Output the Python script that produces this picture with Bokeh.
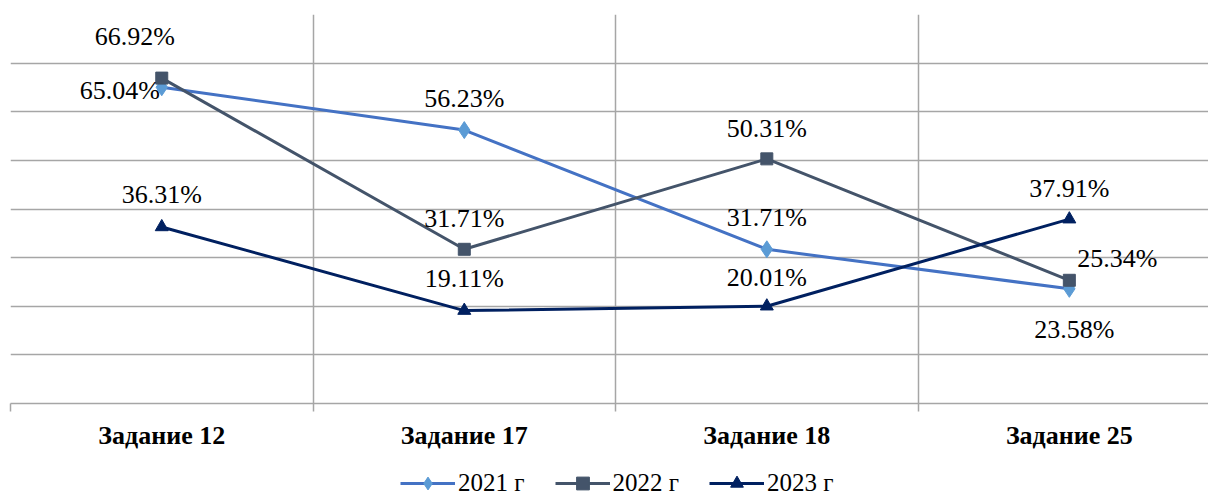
from bokeh.plotting import figure
from bokeh.layouts import column
from bokeh.models import (Range1d, FixedTicker, Legend, LegendItem, LabelSet, ColumnDataSource)
from bokeh.core.properties import value
from bokeh.embed import file_html
from bokeh.resources import INLINE

categories = ["Задание 12", "Задание 17", "Задание 18", "Задание 25"]
series_names = ["2021 г", "2022 г", "2023 г"]
values_2021 = [65.04, 56.23, 31.71, 23.58]
values_2022 = [66.92, 31.71, 50.31, 25.34]
values_2023 = [36.31, 19.11, 20.01, 37.91]

# label offsets (screen px, layout only)
xoff = {"2021": [-42, 0, 0, 5], "2022": [-27, 0, 0, 48], "2023": [0, 0, 0, 0]}
yoff = {"2021": [-3, 32, 32, -41], "2022": [42, 31, 30, 22], "2023": [32, 32, 29, 31]}

FONT = "Liberation Serif"
GRID = "#a6a6a6"

xs = list(range(len(categories)))

p = figure(width=1208, height=454, x_range=Range1d(-0.5, 3.46), y_range=Range1d(0, 80),
           output_backend="svg", toolbar_location=None,
           min_border_left=10, min_border_right=0, min_border_top=14, min_border_bottom=51)
p.outline_line_color = None
p.yaxis.visible = False

ticker = FixedTicker(ticks=xs, minor_ticks=[i - 0.5 for i in range(len(categories) + 1)])
ax = p.xaxis[0]
ax.ticker = ticker
ax.major_label_overrides = {i: c for i, c in zip(xs, categories)}
ax.major_tick_out = 0
ax.major_tick_in = 0
ax.minor_tick_out = 8
ax.minor_tick_in = 0
ax.minor_tick_line_color = GRID
ax.minor_tick_line_width = 1.5
ax.axis_line_color = GRID
ax.axis_line_width = 1.5
ax.major_label_text_font = FONT
ax.major_label_text_font_size = "26px"
ax.major_label_text_font_style = "bold"
ax.major_label_text_color = "black"
ax.major_label_standoff = 9

p.xgrid.ticker = ticker
p.xgrid.grid_line_color = None
p.xgrid.minor_grid_line_color = GRID
p.xgrid.minor_grid_line_width = 1.5
p.ygrid.ticker = FixedTicker(ticks=list(range(0, 81, 10)))
p.ygrid.grid_line_color = GRID
p.ygrid.grid_line_width = 1.5

# legend strip below the chart
p2 = figure(width=1208, height=45, x_range=Range1d(0, 1), y_range=Range1d(0, 1),
            output_backend="svg", toolbar_location=None, min_border=0)
p2.outline_line_color = None
p2.axis.visible = False
p2.grid.visible = False

styles = [
    ("2021", values_2021, "#4472C4", "#5B9BD5", "diamond", 17),
    ("2022", values_2022, "#44546A", "#44546A", "square", 12),
    ("2023", values_2023, "#002060", "#002060", "triangle", 13),
]

items = []
for (key, vals, lc, mc, marker, ms), name in zip(styles, series_names):
    src = ColumnDataSource(dict(x=xs, y=vals,
                                t=["%.2f%%" % v for v in vals],
                                xo=xoff[key], yo=yoff[key]))
    p.line("x", "y", source=src, line_color=lc, line_width=3)
    p.scatter("x", "y", source=src, marker=marker, size=ms,
              fill_color=mc, line_color=mc)
    labels = LabelSet(x="x", y="y", text="t", source=src, x_offset="xo", y_offset="yo",
                      text_align="center", text_baseline="middle",
                      text_font=value(FONT), text_font_size="26px", text_color="black")
    p.add_layout(labels)
    # same series in the legend strip (data lies outside its view, only the legend shows)
    lr = p2.line("x", "y", source=src, line_color=lc, line_width=3)
    sr = p2.scatter("x", "y", source=src, marker=marker, size=ms,
                    fill_color=mc, line_color=mc)
    items.append(LegendItem(label=name, renderers=[lr, sr]))

legend = Legend(items=items, orientation="horizontal", location=(390, 0))
legend.label_text_font = FONT
legend.label_text_font_size = "25px"
legend.label_text_color = "black"
legend.glyph_width = 55
legend.glyph_height = 32
legend.label_standoff = 3
legend.spacing = 30
legend.padding = 0
legend.margin = 0
legend.border_line_color = None
legend.background_fill_alpha = 0
p2.add_layout(legend)

open("out.html", "w").write(file_html(column(p, p2, spacing=0), INLINE))
